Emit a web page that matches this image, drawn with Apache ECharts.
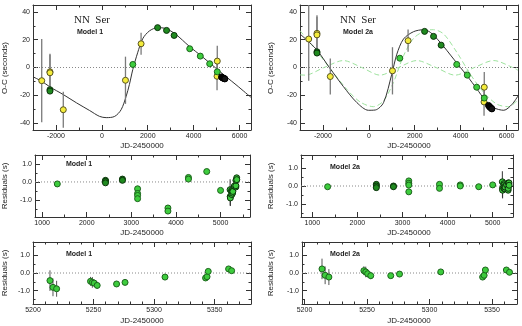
<!DOCTYPE html>
<html>
<head>
<meta charset="utf-8">
<script src="https://cdn.jsdelivr.net/npm/echarts@6/dist/echarts.min.js"></script>
<style>
  html, body { margin: 0; padding: 0; background: #fff; }
  #chart { width: 522px; height: 326px; }
</style>
</head>
<body>
<div id="chart"></div>
<script>
// ---- top panels: O-C (seconds) against JD-2450000 ----
const yelX = [-2620, -2260, -2260, -1680, 1030, 1710, 5030, 5020];
const yelOC1 = [-9.5, -3.1, -3.8, -30.4, -9.2, 17.1, 4.6, -6.3];
const yelOC2 = [20.5, 24.6, 23.5, -6.5, -2.4, 19.3, -14.2, -24.8];
const yelErr = [30, 13, 13, 13, 17, 8, 11, 10];

const dkX = [-2260, -2260, 2430, 2820, 3150];
const dkOC1 = [-16, -17, 28.7, 26.7, 23.1];
const dkOC2 = [11.3, 10.4, 26, 22.4, 16.1];

const grX = [1350, 3830, 4290, 4700, 5030];
const grOC1 = [2.2, 13.5, 8.2, 2.7, -3.1];
const grOC2 = [6.7, 2.2, -5.5, -14.2, -22];

const bkX = [5215, 5250, 5275, 5310, 5345, 5362];
const bkOC1 = [-6.8, -7.3, -7.6, -7.8, -8.0, -8.2];
const bkOC2 = [-27.3, -28, -28.5, -29, -29.5, -29.8];

// model curves
const c1X = [-3000, -2620, -2260, -1680, -1100, -530, -100, 190, 560, 840, 1060, 1200, 1350, 1560, 1780, 2070, 2430, 2790, 3220, 3800, 4380, 4950, 5390, 5890, 6500];
const c1Y = [-6.7, -9.9, -14, -19.5, -25.5, -31, -35.2, -36.1, -35.2, -30.4, -20.7, -12.3, -1.4, 10.6, 20.7, 26.3, 28.7, 28, 23.9, 15.4, 7.7, -0.2, -6.3, -13, -21.5];
const c2X = [-3000, -2300, -1720, -1110, -520, -20, 280, 640, 1000, 1220, 1510, 1950, 2390, 2680, 3110, 3700, 4280, 4720, 5040, 5440, 5880, 6240, 6500];
const c2Y = [24.1, 13.3, 0, -13.7, -25.3, -30.8, -30.6, -25.3, -4.8, 9.6, 20.5, 25.8, 27.2, 25.3, 18.1, 6, -6, -15.7, -22.9, -28.9, -30.8, -26.5, -20.5];
const bigX = [-3000, -2570, -1720, -960, -380, 200, 640, 1070, 1510, 1950, 2460, 2820, 3260, 3840, 4420, 5010, 5590, 6100, 6500];
const bigY = [26.5, 18, 0, -15.7, -24.8, -28.2, -24, -10.8, 8.4, 21, 26.5, 27.2, 24.1, 10.8, -4.8, -18, -26.5, -28.2, -23];
const smlX = [-3000, -2780, -1950, -1110, -310, 490, 1290, 2090, 2925, 3760, 4600, 5440, 6270, 6500];
const smlY = [-5.3, -5.5, 0, 5, 0, -5.5, 0, 5, 0, -5.5, 0, 5, 0, -2];

// ---- residual panels (s) ----
const resX = [1340, 2420, 2420, 2420, 2800, 2800, 3140, 3140, 3140, 3140, 3820, 3820, 4280, 4280, 4690, 5000];
const res1 = [-0.11, 0.09, 0.04, -0.05, 0.16, 0.09, -0.38, -0.64, -0.75, -0.93, -1.45, -1.62, 0.25, 0.16, 0.58, -0.47];
const res2 = [-0.04, 0.09, 0.0, -0.09, 0.0, -0.04, 0.28, 0.15, 0.05, -0.32, 0.09, -0.13, 0.06, 0.0, -0.04, 0.06];
const resErr = [0.1, 0.05, 0.05, 0.05, 0.05, 0.05, 0.15, 0.1, 0.1, 0.1, 0.1, 0.1, 0.05, 0.05, 0.05, 0.05];
const resDark = [0, 1, 1, 1, 1, 1, 0, 0, 0, 0, 0, 0, 0, 0, 0, 0];

const lateX = [5214, 5216.5, 5219.5, 5247.5, 5249, 5250.5, 5253, 5269, 5276, 5309, 5342.5, 5343.7, 5344.7, 5361.5, 5364];
const late1 = [-0.43, -0.81, -0.89, -0.47, -0.53, -0.57, -0.70, -0.62, -0.53, -0.23, -0.28, -0.21, 0.09, 0.23, 0.13];
const late2 = [0.23, -0.13, -0.23, 0.13, 0.06, -0.04, -0.15, -0.15, -0.06, 0.06, -0.23, -0.13, 0.17, 0.17, 0.04];
const lateErr = [0.58, 0.5, 0.45, 0.25, 0.3, 0.2, 0.2, 0.08, 0.08, 0.05, 0.08, 0.08, 0.08, 0.05, 0.05];

// tick positions
const topXMaj = [-2000, 0, 2000, 4000, 6000], topXMin = [-3000, -1000, 1000, 3000, 5000];
const topYMaj = [-40, -20, 0, 20, 40], topYMin = [-30, -10, 10, 30];
const midXMaj = [1000, 2000, 3000, 4000, 5000], midXMin = [1500, 2500, 3500, 4500, 5500];
const botXMaj = [5200, 5250, 5300, 5350], botXMin = [5210, 5220, 5230, 5240, 5260, 5270, 5280, 5290, 5310, 5320, 5330, 5340, 5360, 5370];
const resYMaj = [-1, 0, 1], resYMin = [-1.5, -0.5, 0.5, 1.5];

const FONT = 'Liberation Sans';
const INK = '#222';

const grids = [
  { left: 33, top: 5, width: 218, height: 125 },
  { left: 300, top: 5, width: 218, height: 125 },
  { left: 35, top: 155, width: 215, height: 62 },
  { left: 301, top: 155, width: 212, height: 62 },
  { left: 33, top: 242, width: 218, height: 62 },
  { left: 302, top: 242, width: 215, height: 62 }
];

const xAxes = [], yAxes = [];
function axis(g, r, pos, ticks, len, lab, fmt, line) {
  return {
    gridIndex: g, type: 'value', min: r[0], max: r[1], position: pos,
    axisLine: { show: line, onZero: false, lineStyle: { color: '#333', width: 1 } },
    axisTick: { show: true, inside: true, length: len, customValues: ticks, lineStyle: { color: '#333', width: 1 } },
    axisLabel: { show: lab, customValues: ticks, formatter: fmt, fontSize: 7, fontFamily: FONT, color: INK, margin: 3 },
    splitLine: { show: false }
  };
}
function addAxes(g, xr, xMaj, xMin, xFmt, yr, yMaj, yMin, yFmt) {
  xAxes.push(axis(g, xr, 'bottom', xMaj, 5, true, xFmt, true));
  xAxes.push(axis(g, xr, 'bottom', xMin, 2.5, false, null, false));
  xAxes.push(axis(g, xr, 'top', xMaj, 5, false, null, true));
  xAxes.push(axis(g, xr, 'top', xMin, 2.5, false, null, false));
  yAxes.push(axis(g, yr, 'left', yMaj, 5, true, yFmt, true));
  yAxes.push(axis(g, yr, 'left', yMin, 2.5, false, null, false));
  yAxes.push(axis(g, yr, 'right', yMaj, 5, false, null, true));
  yAxes.push(axis(g, yr, 'right', yMin, 2.5, false, null, false));
}
const intFmt = v => String(v);
const oneDec = v => v.toFixed(1);
addAxes(0, [-3000, 6500], topXMaj, topXMin, intFmt, [-45, 45], topYMaj, topYMin, intFmt);
addAxes(1, [-3000, 6500], topXMaj, topXMin, intFmt, [-45, 45], topYMaj, topYMin, intFmt);
addAxes(2, [840, 5660], midXMaj, midXMin, intFmt, [-1.95, 1.5], resYMaj, resYMin, oneDec);
addAxes(3, [750, 5450], midXMaj, midXMin, intFmt, [-1.7, 1.7], resYMaj, resYMin, oneDec);
addAxes(4, [5200, 5380], botXMaj, botXMin, intFmt, [-1.75, 1.75], resYMaj, resYMin, oneDec);
addAxes(5, [5198, 5370], botXMaj, botXMin, intFmt, [-1.75, 1.75], resYMaj, resYMin, oneDec);

const pts = (xs, ys) => xs.map((x, i) => [x, ys[i]]);

function errBars(g, xs, ys, es, color, w) {
  return {
    type: 'custom', xAxisIndex: g * 4, yAxisIndex: g * 4, clip: true, z: 2, silent: true,
    data: xs.map((x, i) => [x, ys[i], es[i]]),
    renderItem: (p, api) => {
      const a = api.coord([api.value(0), api.value(1) - api.value(2)]);
      const b = api.coord([api.value(0), api.value(1) + api.value(2)]);
      return { type: 'line', shape: { x1: a[0], y1: a[1], x2: b[0], y2: b[1] }, style: { stroke: color, lineWidth: w } };
    }
  };
}
function dots(g, data, fill, border) {
  return {
    type: 'scatter', xAxisIndex: g * 4, yAxisIndex: g * 4, symbol: 'circle', symbolSize: 6, z: 3, silent: true,
    itemStyle: { color: fill, borderColor: border, borderWidth: 1, opacity: 1 },
    data: data
  };
}
function curve(g, xs, ys, color, type) {
  return {
    type: 'line', xAxisIndex: g * 4, yAxisIndex: g * 4, showSymbol: false, smooth: 0.3, z: 1, silent: true,
    lineStyle: { color: color, width: 1, type: type || 'solid' }, data: pts(xs, ys)
  };
}
function zero(g, r) {
  return {
    type: 'line', xAxisIndex: g * 4, yAxisIndex: g * 4, showSymbol: false, z: 0, silent: true,
    lineStyle: { color: '#888', width: 1, type: [1, 2] }, data: [[r[0], 0], [r[1], 0]]
  };
}

const YEL = ['#f4ec3c', '#5a5520'], GRN = ['#3dcc3d', '#1c641c'], DK = ['#1f8a1f', '#0b330b'], BK = ['#151515', '#000'];
const series = [];

// top panels
[[0, yelOC1, dkOC1, grOC1, bkOC1], [1, yelOC2, dkOC2, grOC2, bkOC2]].forEach(([g, yo, dk, gr, bk]) => {
  series.push(zero(g, [-3000, 6500]));
  if (g === 0) {
    series.push(curve(0, c1X, c1Y, '#333'));
  } else {
    series.push(curve(1, bigX, bigY, '#9ee39e', [5, 3]));
    series.push(curve(1, smlX, smlY, '#9ee39e', [5, 3]));
    series.push(curve(1, c2X, c2Y, '#333'));
  }
  series.push(errBars(g, yelX, yo, yelErr, '#7a7a7a', 1.3));
  series.push(dots(g, pts(yelX, yo), YEL[0], YEL[1]));
  series.push(dots(g, pts(grX, gr), GRN[0], GRN[1]));
  series.push(dots(g, pts(dkX, dk), DK[0], DK[1]));
  series.push(dots(g, pts(bkX, bk), BK[0], BK[1]));
});

// middle residual panels
[[2, res1, late1, [840, 5660]], [3, res2, late2, [750, 5450]]].forEach(([g, r, l, xr]) => {
  series.push(zero(g, xr));
  series.push(errBars(g, resX, r, resErr, '#333', 1));
  series.push(errBars(g, lateX, l, lateErr, '#333', 1));
  series.push(dots(g, pts(resX, r).filter((p, i) => !resDark[i]), GRN[0], GRN[1]));
  series.push(dots(g, pts(resX, r).filter((p, i) => resDark[i]), DK[0], DK[1]));
  series.push(dots(g, pts(lateX, l), GRN[0], DK[1]));
});

// bottom residual panels
[[4, late1, [5200, 5380]], [5, late2, [5198, 5370]]].forEach(([g, l, xr]) => {
  series.push(zero(g, xr));
  series.push(errBars(g, lateX, l, lateErr, '#555', 1));
  series.push(dots(g, pts(lateX, l), GRN[0], GRN[1]));
});

function txt(x, y, s, font, rot) {
  return {
    type: 'text', x: x, y: y, rotation: rot ? Math.PI / 2 : 0, z: 10, silent: true,
    style: { text: s, font: font, fill: INK, textAlign: 'center', textVerticalAlign: 'middle' }
  };
}
const serif = '11px "Liberation Serif"';
const tag = 'bold 7px "Liberation Sans"';
const lab = '8px "Liberation Sans"';
const graphic = [
  txt(92, 20, 'NN  Ser', serif), txt(90, 32, 'Model 1', tag),
  txt(358, 20, 'NN  Ser', serif), txt(358, 32, 'Model 2a', tag),
  txt(79, 164, 'Model 1', tag), txt(345, 167, 'Model 2a', tag),
  txt(79, 254, 'Model 1', tag), txt(345, 254, 'Model 2a', tag),
  txt(5, 68, 'O-C (seconds)', lab, true), txt(271, 68, 'O-C (seconds)', lab, true),
  txt(5, 186, 'Residuals (s)', lab, true), txt(271, 186, 'Residuals (s)', lab, true),
  txt(5, 273, 'Residuals (s)', lab, true), txt(271, 273, 'Residuals (s)', lab, true),
  txt(142, 146, 'JD-2450000', lab), txt(409, 146, 'JD-2450000', lab),
  txt(142, 233, 'JD-2450000', lab), txt(409, 233, 'JD-2450000', lab),
  txt(142, 321, 'JD-2450000', lab), txt(409, 321, 'JD-2450000', lab)
];

const chart = echarts.init(document.getElementById('chart'));
chart.setOption({
  animation: false,
  backgroundColor: '#fff',
  grid: grids,
  xAxis: xAxes,
  yAxis: yAxes,
  series: series,
  graphic: graphic
});
</script>
</body>
</html>
